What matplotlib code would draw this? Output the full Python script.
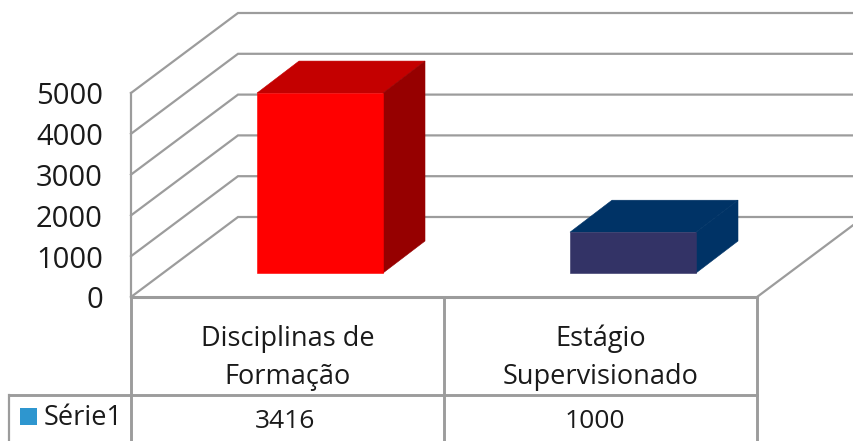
#!/usr/bin/env python3
"""3D style column chart with a data table, drawn by hand on a pixel axes."""
import matplotlib
matplotlib.use("Agg")
import matplotlib.pyplot as plt
from matplotlib.patches import Polygon, Rectangle

plt.rcParams["font.family"] = ["Open Sans", "DejaVu Sans"]

# data
categories = ["Disciplinas de\nFormação", "Estágio\nSupervisionado"]
bar_heights = [4410, 1000]          # as drawn in the picture
table_values = ["3416", "1000"]     # as printed in the data table
y_ticks = [0, 1000, 2000, 3000, 4000, 5000]
grid_values = [0, 1000, 2000, 3000, 4000, 5000]
series_name = "Série1"

# colours per bar: front, top, side
FRONT = ["#FF0000", "#333366"]
TOP = ["#C40000", "#003366"]
SIDE = ["#960000", "#003366"]
GRID = "#9C9C9C"
TEXT = "#1a1a1a"
LW = 1.6

# scale (image pixels)
X0, X1 = 131, 757         # front edge of floor
Y0 = 297                  # value 0 on front wall
PX_PER_UNIT = 204 / 5000
WALL_DX, WALL_DY = 107, -80
BAR_DX, BAR_DY = 42, -32
BAR_BASE = 273
BAR_W = 126
BAR_GAP_LEFT = 126        # left of the bar inside its category
CAT_W = (X1 - X0) / len(categories)


def val_y(v):
    return Y0 - v * PX_PER_UNIT


fig = plt.figure(figsize=(8.54, 4.41), dpi=100)
ax = fig.add_axes([0, 0, 1, 1])
ax.set_xlim(0, 854)
ax.set_ylim(441, 0)
ax.axis("off")

# walls
for v in grid_values:
    y = val_y(v)
    ax.plot([X0, X0 + WALL_DX, 854], [y, y + WALL_DY, y + WALL_DY],
            color=GRID, lw=LW, zorder=1, solid_joinstyle="miter")
ax.plot([X0, X0], [val_y(5000), Y0], color=GRID, lw=LW, zorder=1)

# floor front edge and right side
ax.plot([X0, X1], [Y0, Y0], color=GRID, lw=LW + 0.6, zorder=1)
ax.plot([X1, X1 + WALL_DX], [Y0, Y0 + WALL_DY], color=GRID, lw=LW, zorder=1)

# bars
for i, h in enumerate(bar_heights):
    left = X0 + i * CAT_W + BAR_GAP_LEFT
    right = left + BAR_W
    top = BAR_BASE - h * PX_PER_UNIT
    ax.add_patch(Polygon([(left, top), (right, top),
                          (right + BAR_DX, top + BAR_DY),
                          (left + BAR_DX, top + BAR_DY)],
                         fc=TOP[i], ec=TOP[i], lw=0.4, zorder=3))
    ax.add_patch(Polygon([(right, top), (right + BAR_DX, top + BAR_DY),
                          (right + BAR_DX, BAR_BASE + BAR_DY),
                          (right, BAR_BASE)],
                         fc=SIDE[i], ec=SIDE[i], lw=0.4, zorder=3))
    ax.add_patch(Rectangle((left, top), BAR_W, BAR_BASE - top,
                           fc=FRONT[i], ec=FRONT[i], lw=0.4, zorder=4))

# y tick labels
for v in y_ticks:
    ax.text(103, val_y(v) + 4, str(v), ha="right", va="center",
            fontsize=21, color=TEXT)

# data table
TABLE_Y = 395
ax.plot([9, X1], [TABLE_Y, TABLE_Y], color=GRID, lw=LW + 0.5, zorder=2)
ax.plot([9, 9], [TABLE_Y, 441], color=GRID, lw=LW, zorder=2)
for k in range(len(categories) + 1):
    x = X0 + k * CAT_W
    ax.plot([x, x], [Y0, 441], color=GRID, lw=LW + 0.5, zorder=2)

for i, (cat, val) in enumerate(zip(categories, table_values)):
    cx = X0 + (i + 0.5) * CAT_W
    ax.text(cx, 358, cat, ha="center", va="center", fontsize=19.5,
            color=TEXT, linespacing=1.48)
    ax.text(cx - 2 - 4 * i, 421, val, ha="center", va="center", fontsize=19,
            color=TEXT)

# legend key inside the table
ax.add_patch(Rectangle((20, 408), 17, 17, fc="#2E96CF", ec="none", zorder=3))
ax.text(44, 418, series_name, ha="left", va="center", fontsize=19.5,
        color=TEXT)

fig.savefig("out.png", dpi=100, facecolor="white")
